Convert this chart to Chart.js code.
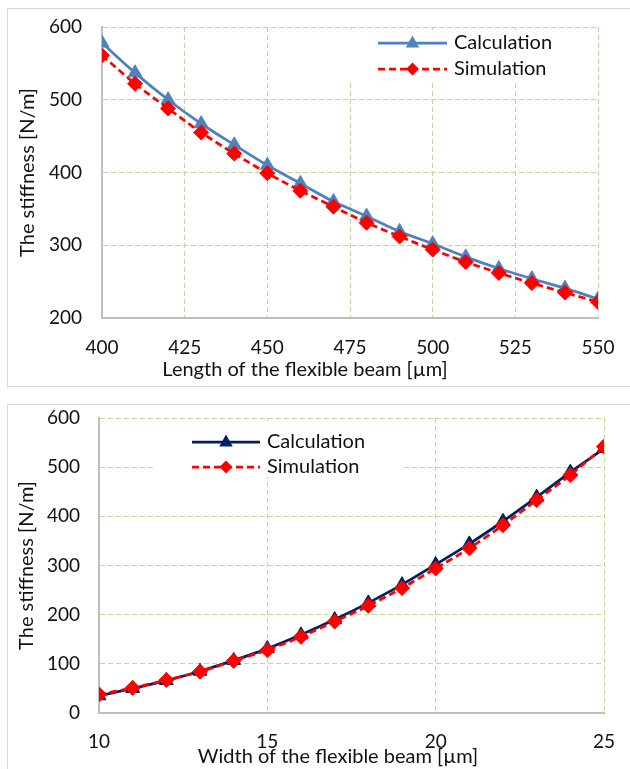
<!DOCTYPE html>
<html>
<head>
<meta charset="utf-8">
<title>Stiffness of the flexible beam</title>
<script src="https://cdn.jsdelivr.net/npm/chart.js"></script>
<style>
  html, body { margin: 0; padding: 0; background: #fff; width: 630px; height: 769px; overflow: hidden; }
  .panel { position: absolute; left: 7px; width: 640px; border: 1px solid #d9d9d9; background: #fff; }
  #topPanel { top: 8px; height: 377px; }
  #bottomPanel { top: 404px; height: 400px; }
  .panel canvas { position: absolute; left: 0; top: 0; }
</style>
</head>
<body>
<div class="panel" id="topPanel"><canvas id="lengthChart" width="620" height="376"></canvas></div>
<div class="panel" id="bottomPanel"><canvas id="widthChart" width="620" height="364"></canvas></div>

<script>
// beam length sweep [µm] and stiffness [N/m]
const beamLengths = [400, 410, 420, 430, 440, 450, 460, 470, 480, 490, 500, 510, 520, 530, 540, 550];
const calcByLength = [578, 537, 500, 467, 438, 410, 385, 360, 340, 319, 302, 284, 268, 254, 241, 226];
const simByLength  = [561, 522, 488, 455, 426, 399, 375, 353, 331, 312, 294, 277, 262, 248, 235, 222];

// beam width sweep [µm] and stiffness [N/m]
const beamWidths = [10, 11, 12, 13, 14, 15, 16, 17, 18, 19, 20, 21, 22, 23, 24, 25];
const calcByWidth = [35, 50, 66, 85, 107, 131, 159, 190, 224, 261, 302, 344, 390, 439, 490, 538];
const simByWidth  = [38, 51, 67, 84, 106, 128, 155, 186, 218, 254, 294, 335, 382, 433, 484, 542];

const seriesLabels = ['Calculation', 'Simulation'];

const FONT = 'Lato, "Open Sans", sans-serif';
const TEXT = '#111';
const GRID = '#c3d69b';
const AXIS = '#bfbfbf';
const RED = '#ff0000';
const NONE = 'rgba(0,0,0,0)';

function toPoints(xs, ys) {
    return xs.map((x, i) => ({ x: x, y: ys[i] }));
}

function drawMarker(ctx, style, x, y, r, color) {
    ctx.save();
    ctx.setLineDash([]);
    ctx.fillStyle = color;
    ctx.beginPath();
    if (style === 'triangle') {
        ctx.moveTo(x, y - r);
        ctx.lineTo(x + r * 0.9, y + r * 0.6);
        ctx.lineTo(x - r * 0.9, y + r * 0.6);
    } else {
        ctx.moveTo(x, y - r);
        ctx.lineTo(x + r, y);
        ctx.lineTo(x, y + r);
        ctx.lineTo(x - r, y);
    }
    ctx.closePath();
    ctx.fill();
    ctx.restore();
}

/**
 * Legend drawn inside the plot on a white box, built from the datasets
 */
const inlineLegend = {
    id: 'inlineLegend',
    afterDraw(chart, args, opts) {
        const ctx = chart.ctx;
        ctx.save();
        ctx.fillStyle = '#fff';
        ctx.fillRect(opts.box[0], opts.box[1], opts.box[2], opts.box[3]);
        chart.data.datasets.forEach((ds, i) => {
            const y = opts.rows[i];
            ctx.strokeStyle = ds.borderColor;
            ctx.lineWidth = ds.borderWidth;
            ctx.setLineDash(ds.borderDash || []);
            ctx.beginPath();
            ctx.moveTo(opts.x0, y);
            ctx.lineTo(opts.x1, y);
            ctx.stroke();
            drawMarker(ctx, ds.pointStyle, (opts.x0 + opts.x1) / 2, y,
                ds.pointStyle === 'triangle' ? 7.5 : 6.5, ds.pointBackgroundColor);
            ctx.setLineDash([]);
            ctx.fillStyle = TEXT;
            ctx.font = '20px ' + FONT;
            ctx.textAlign = 'left';
            ctx.textBaseline = 'middle';
            ctx.fillText(ds.label, opts.textX, y);
        });
        ctx.restore();
    }
};

/**
 * x axis title, centred on the panel rather than on the plot area
 */
const xAxisTitle = {
    id: 'xAxisTitle',
    afterDraw(chart, args, opts) {
        const ctx = chart.ctx;
        ctx.save();
        ctx.fillStyle = TEXT;
        ctx.font = '20px ' + FONT;
        ctx.textAlign = 'center';
        ctx.textBaseline = 'middle';
        ctx.fillText(chart.options.scales.x.title.text, opts.x, opts.y);
        ctx.restore();
    }
};

function makeDatasets(xs, calc, sim, calcColor, tension) {
    return [
        {
            label: seriesLabels[0],
            data: toPoints(xs, calc),
            borderColor: calcColor,
            backgroundColor: calcColor,
            pointBackgroundColor: calcColor,
            pointBorderColor: calcColor,
            borderWidth: 2.75,
            pointStyle: 'triangle',
            pointRadius: 8,
            pointBorderWidth: 1,
            tension: tension,
            order: 2
        },
        {
            label: seriesLabels[1],
            data: toPoints(xs, sim),
            borderColor: RED,
            backgroundColor: RED,
            pointBackgroundColor: RED,
            pointBorderColor: RED,
            borderWidth: 2.75,
            borderDash: [7, 4],
            pointStyle: 'rectRot',
            pointRadius: 7.5,
            pointBorderWidth: 1,
            tension: tension,
            order: 1
        }
    ];
}

function makeOptions(cfg) {
    const tickFont = { family: FONT, size: 19 };
    const titleFont = { family: FONT, size: 20 };
    return {
        responsive: false,
        animation: false,
        devicePixelRatio: 1,
        layout: {
            padding: { top: cfg.padTop, right: cfg.padRight, left: 0, bottom: 0 }
        },
        plugins: {
            legend: { display: false },
            tooltip: { enabled: false },
            inlineLegend: cfg.legend,
            xAxisTitle: cfg.xTitlePos
        },
        scales: {
            x: {
                type: 'linear',
                min: cfg.xMin,
                max: cfg.xMax,
                // the gap under the axis comes from an invisible tick mark
                ticks: { stepSize: cfg.xStep, padding: 0, font: tickFont, color: TEXT },
                grid: { color: GRID, lineWidth: 1, drawTicks: true, tickLength: cfg.xTickGap, tickColor: NONE },
                border: { color: AXIS, width: 2, dash: [5, 3] },
                title: { display: false, text: cfg.xTitle },
                afterFit(scale) { scale.height = cfg.xAxisH; }
            },
            y: {
                type: 'linear',
                min: cfg.yMin,
                max: 600,
                ticks: { stepSize: 100, padding: 0, font: tickFont, color: TEXT },
                grid: { color: GRID, lineWidth: 1, drawTicks: true, tickLength: cfg.yTickGap, tickColor: NONE },
                border: { color: AXIS, width: 2, dash: [5, 3] },
                title: { display: true, text: 'The stiffness [N/m]', font: titleFont, color: TEXT, padding: { top: cfg.yTitlePad, bottom: 0 } },
                afterFit(scale) { scale.width = cfg.yAxisW; }
            }
        }
    };
}

new Chart(document.getElementById('lengthChart'), {
    type: 'line',
    data: { datasets: makeDatasets(beamLengths, calcByLength, simByLength, '#4f81bd', 0.3) },
    options: makeOptions({
        padTop: 18, padRight: 30, xAxisH: 67, yAxisW: 94,
        xMin: 400, xMax: 550, xStep: 25, yMin: 200,
        xTickGap: 18, yTickGap: 20, yTitlePad: 8,
        xTitle: 'Length of the flexible beam [µm]',
        xTitlePos: { x: 297, y: 361 },
        legend: { box: [332, 21, 232, 51], x0: 370, x1: 439, textX: 446, rows: [34, 60] }
    }),
    plugins: [inlineLegend, xAxisTitle]
});

new Chart(document.getElementById('widthChart'), {
    type: 'line',
    data: { datasets: makeDatasets(beamWidths, calcByWidth, simByWidth, '#002060', 0.2) },
    options: makeOptions({
        padTop: 13, padRight: 24, xAxisH: 56, yAxisW: 91,
        xMin: 10, xMax: 25, xStep: 5, yMin: 0,
        xTickGap: 17, yTickGap: 19, yTitlePad: 7,
        xTitle: 'Width of the flexible beam [µm]',
        xTitlePos: { x: 330, y: 352 },
        legend: { box: [145, 16, 250, 56], x0: 184, x1: 252, textX: 259, rows: [37, 62] }
    }),
    plugins: [inlineLegend, xAxisTitle]
});
</script>
</body>
</html>
